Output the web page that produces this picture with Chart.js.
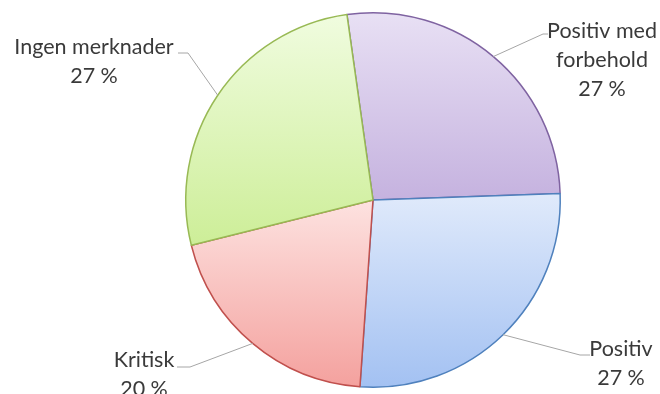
<!DOCTYPE html>
<html>
<head>
<meta charset="utf-8">
<script src="https://cdn.jsdelivr.net/npm/chart.js@4.4.0/dist/chart.umd.min.js"></script>
<style>
  html, body { margin: 0; padding: 0; background: #fff; }
  #wrap { width: 660px; height: 394px; }
</style>
</head>
<body>
<div id="wrap"><canvas id="myChart" width="660" height="394"></canvas></div>
<script>
// data
const labels = ['Positiv med forbehold', 'Positiv', 'Kritisk', 'Ingen merknader'];
const labelLines = [['Positiv med', 'forbehold'], ['Positiv'], ['Kritisk'], ['Ingen merknader']];
const counts = [4, 4, 3, 4];

// colours (top of gradient, bottom of gradient, border)
const topColors = ['#e8e0f4', '#e0eafb', '#fde2e0', '#f0fcdf'];
const bottomColors = ['#c5b2df', '#a3c1f2', '#f4a19e', '#cdee98'];
const borderColors = ['#7f63a1', '#4f81bd', '#c0504d', '#98b954'];

// where the text sits: centre x, first line y, and leader elbow/end points
const labelPos = [
    { x: 602, y: 31, elbow: [543, 34], end: [548, 34] },
    { x: 621, y: 349, elbow: [580, 355], end: [590, 355] },
    { x: 144, y: 360, elbow: [190, 367], end: [177, 367] },
    { x: 94, y: 47, elbow: [188, 53], end: [178, 53] }
];

const total = counts.reduce((a, b) => a + b, 0);

// each slice gets its own top-to-bottom gradient
const sliceGradients = {
    id: 'sliceGradients',
    beforeDatasetsDraw(chart) {
        const c = chart.ctx;
        chart.getDatasetMeta(0).data.forEach((arc, i) => {
            let ys = [arc.y];
            for (let k = 0; k <= 40; k++) {
                const a = arc.startAngle + (arc.endAngle - arc.startAngle) * k / 40;
                ys.push(arc.y + Math.sin(a) * arc.outerRadius);
            }
            const g = c.createLinearGradient(0, Math.min(...ys), 0, Math.max(...ys));
            g.addColorStop(0, topColors[i]);
            g.addColorStop(1, bottomColors[i]);
            arc.options.backgroundColor = g;
        });
    }
};

const outsideLabels = {
    id: 'outsideLabels',
    afterDraw(chart) {
        const c = chart.ctx;
        const arcs = chart.getDatasetMeta(0).data;
        c.save();
        arcs.forEach((arc, i) => {
            const p = labelPos[i];
            const mid = (arc.startAngle + arc.endAngle) / 2;
            const sx = arc.x + Math.cos(mid) * arc.outerRadius;
            const sy = arc.y + Math.sin(mid) * arc.outerRadius;
            c.strokeStyle = '#a6a6a6';
            c.lineWidth = 1;
            c.beginPath();
            c.moveTo(sx, sy);
            c.lineTo(p.elbow[0], p.elbow[1]);
            c.lineTo(p.end[0], p.end[1]);
            c.stroke();

            c.fillStyle = '#3a3a3a';
            c.font = '21.5px Lato, "Open Sans", sans-serif';
            c.textAlign = 'center';
            c.textBaseline = 'middle';
            const lines = labelLines[i].concat([Math.round(counts[i] / total * 100) + ' %']);
            lines.forEach((t, k) => c.fillText(t, p.x, p.y + k * 29));
        });
        c.restore();
    }
};

const data = {
    labels: labels,
    datasets: [{
        data: counts,
        backgroundColor: topColors,
        borderColor: borderColors,
        borderWidth: 1.5
    }]
};

const config = {
    type: 'pie',
    data,
    options: {
        responsive: false,
        animation: false,
        rotation: -8,
        layout: { padding: { left: 185, right: 99, top: 12, bottom: 6 } },
        plugins: {
            legend: { display: false },
            tooltip: { enabled: false }
        }
    },
    plugins: [sliceGradients, outsideLabels]
};

var myChart = new Chart(
document.getElementById('myChart'),
config
);
</script>
</body>
</html>
